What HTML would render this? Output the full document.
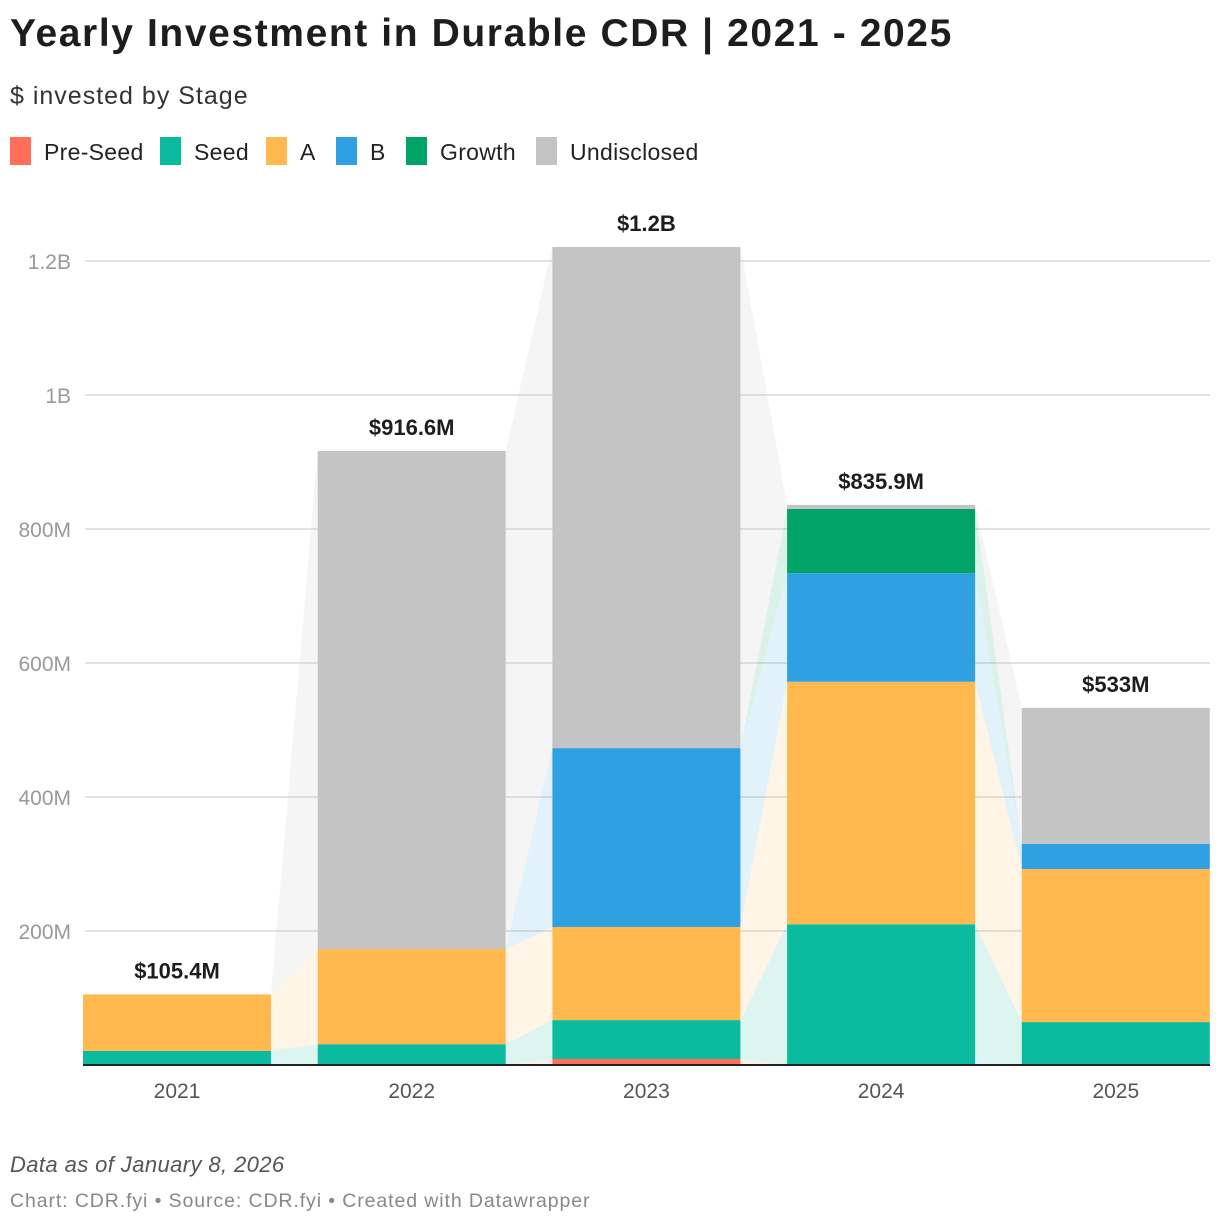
<!DOCTYPE html>
<html><head><meta charset="utf-8"><style>
body{margin:0;background:#fff;font-family:"Liberation Sans",sans-serif;}
#wrap{position:relative;width:1220px;height:1226px;overflow:hidden}
.t{position:absolute;white-space:nowrap}
</style></head><body><div id="wrap">
<div class="t" style="left:10px;top:12px;font-size:39px;font-weight:bold;color:#1d1d1d;letter-spacing:1.6px">Yearly Investment in Durable CDR | 2021 - 2025</div>
<div class="t" style="left:10px;top:82px;font-size:25px;color:#333;letter-spacing:1px">$ invested by Stage</div>
<div id="legend"></div>
<svg id="chart" width="1220" height="1226" style="position:absolute;left:0;top:0"></svg>
<div class="t" style="left:10px;top:1152px;font-size:22px;font-style:italic;color:#555;letter-spacing:0.4px">Data as of January 8, 2026</div>
<div class="t" style="left:10px;top:1190px;font-size:19.5px;color:#888;letter-spacing:0.9px">Chart: CDR.fyi • Source: CDR.fyi • Created with Datawrapper</div>
</div>
<script>
const years=["2021","2022","2023","2024","2025"];
const stages=["Pre-Seed","Seed","A","B","Growth","Undisclosed"];
const colors=["#ff6e58","#0bbb9f","#ffb94f","#2fa0e2","#00a466","#c4c4c4"];
const preSeed=[0,0,9,0,0];
const seed=[21,31,58,210,64];
const seriesA=[84.4,142,139,362,228.5];
const seriesB=[0,0,267,162,37.5];
const growth=[0,0,0,96,0];
const undisclosed=[0,743.6,748,5.9,203];
const totalLabels=["$105.4M","$916.6M","$1.2B","$835.9M","$533M"];
const yTicks=[200,400,600,800,1000,1200];
const yTickLabels=["200M","400M","600M","800M","1B","1.2B"];
const series=[preSeed,seed,seriesA,seriesB,growth,undisclosed];

const NS="http://www.w3.org/2000/svg";
const svg=document.getElementById('chart');
const y0=1065, pxPer=0.67;
const y=v=>y0-v*pxPer;
const barW=188;
const xL=i=>83+i*234.7;
function mk(tag,attrs){const e=document.createElementNS(NS,tag);for(const k in attrs)e.setAttribute(k,attrs[k]);svg.appendChild(e);return e;}

const leg=document.getElementById('legend');
let lx=10;
const legW=[150,106,70,70,130,170];
stages.forEach((s,i)=>{
 const d=document.createElement('div');d.className='t';
 
 
 d.style.cssText=`left:${lx}px;top:137px;height:28px;font-size:23px;color:#222;line-height:30px;letter-spacing:0.3px`;
 d.innerHTML=`<span style="display:inline-block;width:21px;height:28px;background:${colors[i]};vertical-align:top;margin-right:13px"></span>${s}`;
 leg.appendChild(d);lx+=legW[i];
});

yTicks.forEach((t,i)=>{
 const g=mk('line',{x1:85,x2:1210,y1:y(t),y2:y(t),stroke:'#e2e2e2','stroke-width':2});
 
 
 const tx=mk('text',{x:71,y:y(t)+8,'text-anchor':'end','font-size':21,fill:'#999'});
 tx.textContent=yTickLabels[i];
 
 
});

const bottoms=years.map((_,j)=>{let c=0;return series.map(s=>{const b=c;c+=s[j];return [b,c];});});
for(let j=0;j<years.length-1;j++){
 series.forEach((s,k)=>{
  const a=bottoms[j][k],b=bottoms[j+1][k];
  if(s[j]===0&&s[j+1]===0)return;
  const x1=xL(j)+barW,x2=xL(j+1);
  const p=mk('polygon',{points:`${x1},${y(a[0])} ${x1},${y(a[1])} ${x2},${y(b[1])} ${x2},${y(b[0])}`,fill:colors[k],'fill-opacity':k==5?0.17:0.14});
  
  
 });
}
years.forEach((yr,j)=>{
 series.forEach((s,k)=>{
  if(s[j]<=0)return;
  const [b,t]=bottoms[j][k];
  const r=mk('rect',{x:xL(j),y:y(t),width:barW,height:y(b)-y(t),fill:colors[k]});
  
  
 });
 const tot=bottoms[j][5][1];
 const lt=mk('text',{x:xL(j)+barW/2,y:y(tot)-16,'text-anchor':'middle','font-size':22,'font-weight':'bold',fill:'#1d1d1d'});
 lt.textContent=totalLabels[j];
 
 
 const xt=mk('text',{x:xL(j)+barW/2,y:1098,'text-anchor':'middle','font-size':21,fill:'#555'});
 xt.textContent=yr;
 
 
});
const ax=mk('line',{x1:83,x2:1210,y1:y0,y2:y0,stroke:'#222','stroke-width':2});


</script></body></html>
